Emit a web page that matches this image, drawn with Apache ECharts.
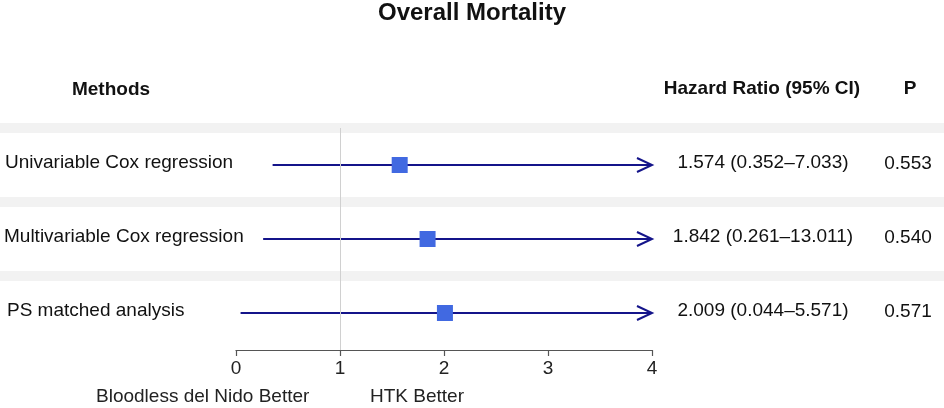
<!DOCTYPE html>
<html>
<head>
<meta charset="utf-8">
<script src="https://cdn.jsdelivr.net/npm/echarts@6/dist/echarts.min.js"></script>
<style>html,body{margin:0;padding:0;background:#fff}#c{width:944px;height:408px}</style>
</head>
<body>
<div id="c"></div>
<script>
const methods = ['Univariable Cox regression', 'Multivariable Cox regression', 'PS matched analysis'];
const hazardRatio = [1.574, 1.842, 2.009];
const ciLower = [0.352, 0.261, 0.044];
const ciUpper = [7.033, 13.011, 5.571];
const hrText = ['1.574 (0.352\u20137.033)', '1.842 (0.261\u201313.011)', '2.009 (0.044\u20135.571)'];
const pValues = ['0.553', '0.540', '0.571'];
const bandPositions = [0.5, 1.5, 2.5];
const xMin = 0, xMax = 4, xStep = 1;

const FONT = 'Liberation Sans, Arial, sans-serif';
const chart = echarts.init(document.getElementById('c'), null, {renderer: 'canvas'});

const rows = methods.map((m, i) => [i + 1, ciLower[i], ciUpper[i], hazardRatio[i]]);

chart.setOption({
  animation: false,
  backgroundColor: '#fff',
  grid: {left: 236, right: 292, top: 128, bottom: 58},
  xAxis: {
    type: 'value', min: xMin, max: xMax, interval: xStep,
    axisLine: {show: true, lineStyle: {color: '#555', width: 1.2}},
    axisTick: {show: true, length: 6, lineStyle: {color: '#555', width: 1.2}},
    axisLabel: {fontSize: 19, color: '#222', margin: 9, fontFamily: FONT},
    splitLine: {show: false}
  },
  yAxis: {type: 'value', min: 0.5, max: 3.5, inverse: true, show: false},
  graphic: [
    {type: 'text', x: 472, y: 13, style: {text: 'Overall Mortality', fontSize: 24, fontWeight: 'bold', fontFamily: FONT, fill: '#111', align: 'center', verticalAlign: 'middle'}},
    {type: 'text', x: 111, y: 90, style: {text: 'Methods', fontSize: 19, fontWeight: 'bold', fontFamily: FONT, fill: '#111', align: 'center', verticalAlign: 'middle'}},
    {type: 'text', x: 762, y: 89, style: {text: 'Hazard Ratio (95% CI)', fontSize: 19, fontWeight: 'bold', fontFamily: FONT, fill: '#111', align: 'center', verticalAlign: 'middle'}},
    {type: 'text', x: 910, y: 89, style: {text: 'P', fontSize: 19, fontWeight: 'bold', fontFamily: FONT, fill: '#111', align: 'center', verticalAlign: 'middle'}},
    {type: 'text', x: 96, y: 397, style: {text: 'Bloodless del Nido Better', fontSize: 19, fontFamily: FONT, fill: '#222', align: 'left', verticalAlign: 'middle'}},
    {type: 'text', x: 370, y: 397, style: {text: 'HTK Better', fontSize: 19, fontFamily: FONT, fill: '#222', align: 'left', verticalAlign: 'middle'}}
  ],
  series: [
    {
      type: 'custom', name: 'bands', z: 1, clip: false, silent: true,
      data: bandPositions.map(v => [0, v]),
      renderItem: function (params, api) {
        const y = api.coord([0, api.value(1)])[1];
        return {type: 'rect', shape: {x: 0, y: y - 5, width: api.getWidth(), height: 10}, style: {fill: '#f2f2f2'}};
      },
      markLine: {
        silent: true, symbol: 'none', label: {show: false},
        lineStyle: {color: '#d0d0d0', width: 1, type: 'solid'},
        data: [{xAxis: 1}]
      }
    },
    {
      type: 'custom', name: 'ci', z: 3, clip: false, silent: true,
      data: rows,
      renderItem: function (params, api) {
        const rowY = api.value(0);
        const lo = Math.max(api.value(1), xMin);
        const hi = api.value(2);
        const p1 = api.coord([lo, rowY]);
        const p2 = api.coord([Math.min(hi, xMax), rowY]);
        const children = [{type: 'line', shape: {x1: p1[0], y1: p1[1], x2: p2[0], y2: p2[1]}, style: {stroke: '#14148a', lineWidth: 2}}];
        if (hi > xMax) {
          children.push({type: 'polyline', shape: {points: [[p2[0] - 15, p2[1] - 7], [p2[0], p2[1]], [p2[0] - 15, p2[1] + 7]]}, style: {stroke: '#14148a', lineWidth: 2, fill: null}});
        }
        return {type: 'group', children: children};
      }
    },
    {
      type: 'scatter', name: 'HR', z: 4, symbol: 'rect', symbolSize: 16,
      itemStyle: {color: '#4169E1', opacity: 1},
      data: rows.map(r => [r[3], r[0]])
    },
    {
      type: 'custom', name: 'texts', z: 5, clip: false, silent: true,
      data: methods.map((m, i) => [i + 1, i]),
      renderItem: function (params, api) {
        const idx = api.value(1);
        const y = api.coord([0, api.value(0)])[1] - 2;
        return {type: 'group', children: [
          {type: 'text', x: [5, 4, 7][idx], y: y, style: {text: methods[idx], fontSize: 19, fontFamily: FONT, fill: '#111', align: 'left', verticalAlign: 'middle'}},
          {type: 'text', x: 763, y: y, style: {text: hrText[idx], fontSize: 19, fontFamily: FONT, fill: '#111', align: 'center', verticalAlign: 'middle'}},
          {type: 'text', x: 908, y: y + 1, style: {text: pValues[idx], fontSize: 19, fontFamily: FONT, fill: '#111', align: 'center', verticalAlign: 'middle'}}
        ]};
      }
    }
  ]
});
</script>
</body>
</html>
